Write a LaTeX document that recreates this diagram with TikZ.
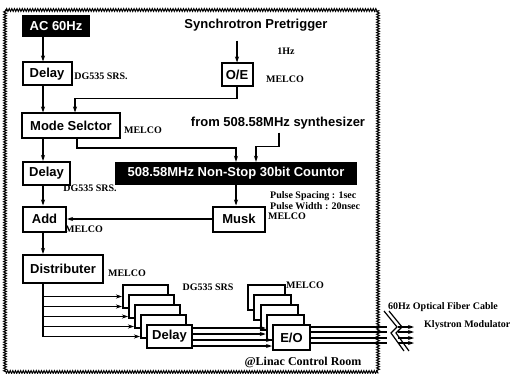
\documentclass[tikz,border=0pt]{standalone}
\usepackage{fontspec}
\setmainfont{Liberation Serif}
\setsansfont{Liberation Sans}
\usetikzlibrary{arrows.meta,positioning,calc,decorations.pathmorphing}

\begin{document}
\begin{tikzpicture}[x=1pt,y=-1pt,>={Stealth[length=6pt,width=4pt]},
  box/.style={draw,line width=2pt,fill=white,inner sep=0pt,
    font=\sffamily\bfseries\fontsize{13}{15}\selectfont},
  blk/.style={fill=black,text=white,inner sep=0pt,
    font=\sffamily\bfseries\fontsize{13}{15}\selectfont},
  head/.style={font=\sffamily\bfseries\fontsize{13}{15}\selectfont},
  lbl/.style={font=\bfseries\fontsize{10}{11}\selectfont,inner sep=0pt},
  sig/.style={line width=1.2pt},
  wavy/.style={decorate,decoration={zigzag,amplitude=1.4pt,segment length=2.6pt},line width=1pt}]
  \useasboundingbox (0,0) rectangle (513,374);
  % control room frame
  \draw[wavy] (5,10) rectangle (378,372);
  \coordinate (col) at (43,0);

  % --- trigger sources ---
  \node[blk,minimum width=68pt,minimum height=22pt] (ac) at (56,26) {AC 60Hz};
  \node[head] (pre) at (256,25) {Synchrotron Pretrigger};
  \node[lbl] at (286,51) {1Hz};
  \node[box,minimum width=31pt,minimum height=23pt] (oe) at (237,75) {O/E};
  \node[lbl] at (285,79) {MELCO};
  \node[box,minimum width=49pt,minimum height=23pt] (dly1) at (47,74) {Delay};
  \node[lbl] at (101,76) {DG535 SRS.};
  \draw[sig,->] (ac.south -| col) -- (dly1.north -| col);
  \draw[sig,->] ($(pre.south -| oe.north)+(0,6)$) -- (oe.north);

  % --- mode selector and counter ---
  \node[box,minimum width=98pt,minimum height=25pt] (mode) at (71,126) {Mode Selctor};
  \node[lbl] at (143,130) {MELCO};
  \draw[sig,->] (dly1.south -| col) -- (mode.north -| col);
  \draw[sig,->] (oe.south) -- ++(0,11) -| ([xshift=4pt]mode.north);
  \node[head] (syn) at (278,123) {from 508.58MHz synthesizer};
  \node[blk,minimum width=242pt,minimum height=23pt] (cnt) at (236,173.5) {508.58MHz Non-Stop 30bit Countor};
  \draw[sig,->] ([xshift=6pt]mode.south) -- ++(0,8.5) -| (cnt.north);
  \draw[sig,->] ([xshift=1pt]syn.south) -- ++(0,14) -| ([xshift=20pt]cnt.north);

  \node[box,minimum width=47pt,minimum height=23pt] (dly2) at (46.5,173.5) {Delay};
  \node[lbl] at (90,188) {DG535 SRS.};
  \node[box,minimum width=43pt,minimum height=25pt] (add) at (44.5,219) {Add};
  \node[lbl] at (84,229) {MELCO};
  \node[box,minimum width=52pt,minimum height=25pt] (musk) at (239,219) {Musk};
  \node[lbl] at (287,216) {MELCO};
  \node[lbl,align=left,anchor=west] at (270,201) {Pulse Spacing : 1sec\\Pulse Width : 20nsec};
  \draw[sig,->] (mode.south -| col) -- (dly2.north -| col);
  \draw[sig,->] (dly2.south -| col) -- (add.north -| col);
  \draw[sig,->] (cnt.south) -- (cnt.south |- musk.north);
  \draw[sig,->] (musk.west) -- (add.east);

  \node[box,minimum width=80pt,minimum height=28pt] (dist) at (63,269) {Distributer};
  \node[lbl] at (127,273) {MELCO};
  \draw[sig,->] (add.south -| col) -- (dist.north -| col);

  % --- delay and E/O stacks ---
  \foreach \i in {0,...,3}
    \node[box,minimum width=45pt,minimum height=23pt] (d\i) at (145.5+6*\i,296.5+10*\i) {};
  \node[box,minimum width=45pt,minimum height=23pt] (d4) at (169.5,336.5) {Delay};
  \node[lbl] at (208,287) {DG535 SRS};
  \foreach \i in {0,...,3}
    \node[box,minimum width=37pt,minimum height=25pt] (e\i) at (266.5+6.25*\i,297.5+10*\i) {};
  \node[box,minimum width=37pt,minimum height=25pt] (e4) at (291.5,337.5) {E/O};
  \node[lbl] at (305,285) {MELCO};

  \draw[sig] (dist.south -| col) -- (col |- d4.west);
  \draw[sig,->] (col |- d0.west) -- (d0.west);
  \foreach \i [evaluate=\i as \p using int(\i-1)] in {1,...,4}
    \draw[sig,->] (col |- d\i.west) -- (d\p.west |- d\i.west);
  \foreach \yy/\tg in {328/e3,334/e3,340/e4,346/e4}
    \draw[sig,->] (d4.east |- 0,\yy) -- (\tg.west |- 0,\yy);

  % optical fiber out
  \coordinate (cut) at (387,0);
  \coordinate (cut2) at (398,0);
  \coordinate (kly) at (414,0);
  \foreach \yy in {327,332,338,343}{
    \draw[sig] (e4.east |- 0,\yy) -- (cut |- 0,\yy);
    \draw[sig,->] (cut2 |- 0,\yy) -- (kly |- 0,\yy);
  }
  \draw[sig] (384,311) -- (397,327) -- (391,333) -- (404,351);
  \draw[sig] (389,311) -- (402,327) -- (396,333) -- (409,351);
  \node[lbl,anchor=west] at (388,307) {60Hz Optical Fiber Cable};
  \node[lbl,anchor=west] at (424,325) {Klystron Modulator};
  \node[font=\bfseries\fontsize{12}{14}\selectfont] at (303,362) {@Linac Control Room};
\end{tikzpicture}
\end{document}
